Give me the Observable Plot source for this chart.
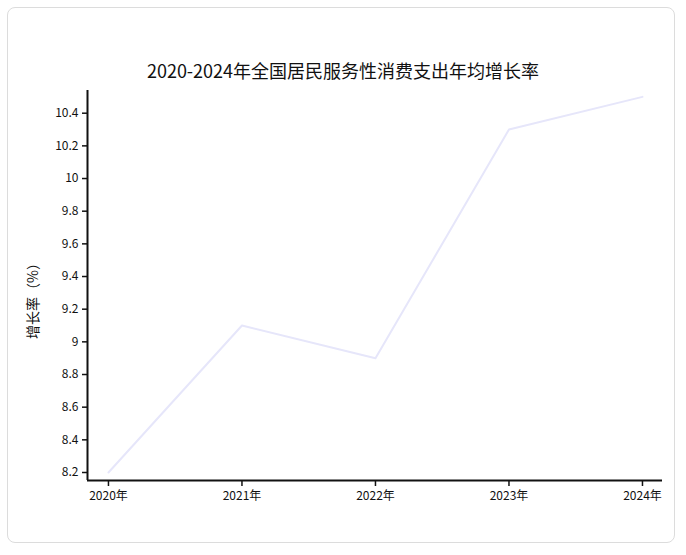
<!DOCTYPE html>
<html>
<head>
<meta charset="utf-8">
<script src="https://cdn.jsdelivr.net/npm/d3@7"></script>
<script src="https://cdn.jsdelivr.net/npm/@observablehq/plot@0.6"></script>
<style>
  html, body { margin: 0; padding: 0; background: #fff; width: 686px; height: 555px; overflow: hidden; }
  body { font-family: "Noto Sans CJK SC", "Noto Sans", sans-serif; position: relative; }
  #card { position: absolute; left: 7px; top: 7px; width: 668px; height: 536px; border: 1px solid #dcdcdc; border-radius: 8px; box-sizing: border-box; }
  #title { position: absolute; left: 0; width: 686px; top: 57px; text-align: center; font-size: 18px; color: #111; line-height: 26px; }
  #chart { position: absolute; left: 0; top: 80px; }
</style>
</head>
<body>
<div id="card"></div>
<div id="title">2020-2024年全国居民服务性消费支出年均增长率</div>
<div id="chart"></div>
<script>
const years = [2020, 2021, 2022, 2023, 2024];
const growth = [8.2, 9.1, 8.9, 10.3, 10.5];
const yTicks = [8.2, 8.4, 8.6, 8.8, 9, 9.2, 9.4, 9.6, 9.8, 10, 10.2, 10.4];
const yLabel = "增长率（%）";
const xDomain = [2019.843, 2024.15];
const yDomain = [8.151, 10.539];

const data = years.map((y, i) => ({year: y, value: growth[i]}));

const chart = Plot.plot({
  width: 686,
  height: 440,
  marginLeft: 87,
  marginRight: 24,
  marginTop: 10,
  marginBottom: 40,
  style: {fontFamily: '"Noto Sans CJK SC", "Noto Sans", sans-serif', fontSize: "12px", color: "#111", background: "transparent"},
  x: {type: "linear", domain: xDomain, label: null},
  y: {domain: yDomain, label: null},
  marks: [
    Plot.axisY({ticks: yTicks, tickSize: 5, tickPadding: 4, tickFormat: d => String(d), stroke: "#111", strokeWidth: 1.5, label: null}),
    Plot.axisX({ticks: years, tickSize: 6, tickPadding: 5, tickFormat: d => d + "年", stroke: "#111", strokeWidth: 1.5, label: null}),
    Plot.ruleY([yDomain[0]], {stroke: "#111", strokeWidth: 2}),
    Plot.ruleX([xDomain[0]], {stroke: "#111", strokeWidth: 2}),
    Plot.line(data, {x: "year", y: "value", stroke: "#e6e6fa", strokeWidth: 2}),
    Plot.text([yLabel], {text: d => d, frameAnchor: "left", textAnchor: "middle", rotate: -90, dx: -54, dy: 12, fontSize: 14, fill: "#111"})
  ]
});
document.getElementById("chart").appendChild(chart);
</script>
</body>
</html>
